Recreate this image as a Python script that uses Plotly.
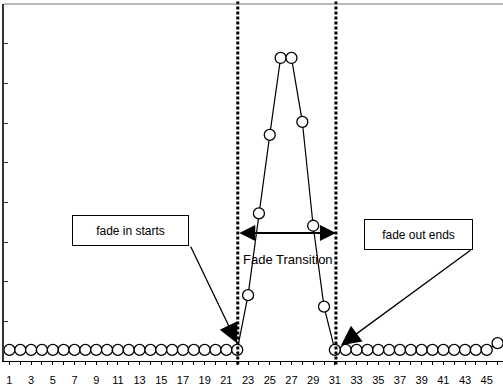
import plotly.graph_objects as go

# ---- data ----
frames = list(range(1, 47))
values = ([0.28] * 22 +
          [1.66, 3.72, 5.70, 7.64, 7.64, 6.03, 3.41, 1.37] +
          [0.28] * 15 + [0.45])
tick_vals = frames
tick_text = [str(f) if f % 2 == 1 else "" for f in frames]
fade_start = 22.05
fade_end = 31.1

fig = go.Figure()
fig.add_trace(go.Scatter(
    x=frames, y=values, mode="lines+markers",
    line=dict(color="black", width=1.2),
    marker=dict(symbol="circle", size=11, color="white",
                line=dict(color="black", width=1.3)),
    showlegend=False, cliponaxis=False, hoverinfo="skip",
))

# dotted vertical lines
for xv in (fade_start, fade_end):
    fig.add_shape(type="line", xref="x", yref="paper", x0=xv, x1=xv, y0=-0.01, y1=1.02,
                  line=dict(color="black", width=3, dash="3px,2px"))

# top border
fig.add_shape(type="line", xref="paper", yref="paper", x0=0, x1=1, y0=1, y1=1,
              line=dict(color="#777", width=1))

font = dict(family="Liberation Sans, Arial", size=12, color="black")

# text boxes
fig.add_annotation(x=12.16, y=3.29, xref="x", yref="y", text="fade in starts",
                   showarrow=False, font=font, bordercolor="black", borderwidth=1,
                   borderpad=2, width=111, height=25, bgcolor="white")
fig.add_annotation(x=38.71, y=3.19, xref="x", yref="y", text="fade out ends",
                   showarrow=False, font=font, bordercolor="black", borderwidth=1,
                   borderpad=2, width=103, height=25, bgcolor="white")

# pointer arrows
fig.add_annotation(x=21.98, y=0.45, ax=17.65, ay=2.92, xref="x", yref="y",
                   axref="x", ayref="y", text="", showarrow=True,
                   arrowhead=2, arrowsize=3, arrowwidth=1.3, arrowcolor="black")
fig.add_annotation(x=31.57, y=0.40, ax=43.64, ay=2.82, xref="x", yref="y",
                   axref="x", ayref="y", text="", showarrow=True,
                   arrowhead=2, arrowsize=3, arrowwidth=1.3, arrowcolor="black")

# double arrow
fig.add_annotation(x=fade_end, y=3.23, ax=fade_start, ay=3.23, xref="x", yref="y",
                   axref="x", ayref="y", text="", showarrow=True,
                   arrowhead=2, startarrowhead=2, arrowside="end+start",
                   arrowsize=1.6, startarrowsize=1.6, arrowwidth=2, arrowcolor="black")
fig.add_annotation(x=26.68, y=2.55, xref="x", yref="y", text="Fade Transition",
                   showarrow=False, font=dict(family="Liberation Sans, Arial", size=13, color="black"))

fig.update_xaxes(range=[0.5, 46.5], tickmode="array", tickvals=tick_vals, ticktext=tick_text,
                 showline=True, linecolor="black", linewidth=1.2, ticks="outside",
                 ticklen=3, tickcolor="black", showgrid=False, zeroline=False,
                 automargin=False, ticklabelstandoff=6,
                 tickfont=dict(family="Liberation Sans, Arial", size=11, color="black"))
fig.update_yaxes(range=[0, 9], dtick=1, showticklabels=False, showline=True,
                 linecolor="#333", linewidth=1.5, ticks="inside", ticklen=4,
                 tickcolor="#333", showgrid=False, zeroline=False, automargin=False)

fig.update_layout(width=503, height=392,
                  margin=dict(l=4, r=0, t=4, b=31, pad=0, autoexpand=False),
                  plot_bgcolor="white", paper_bgcolor="white", hovermode=False)
fig.write_html("out.html", config={"displayModeBar": False},
               post_script="document.body.style.margin='0px';document.body.style.overflow='hidden';")
